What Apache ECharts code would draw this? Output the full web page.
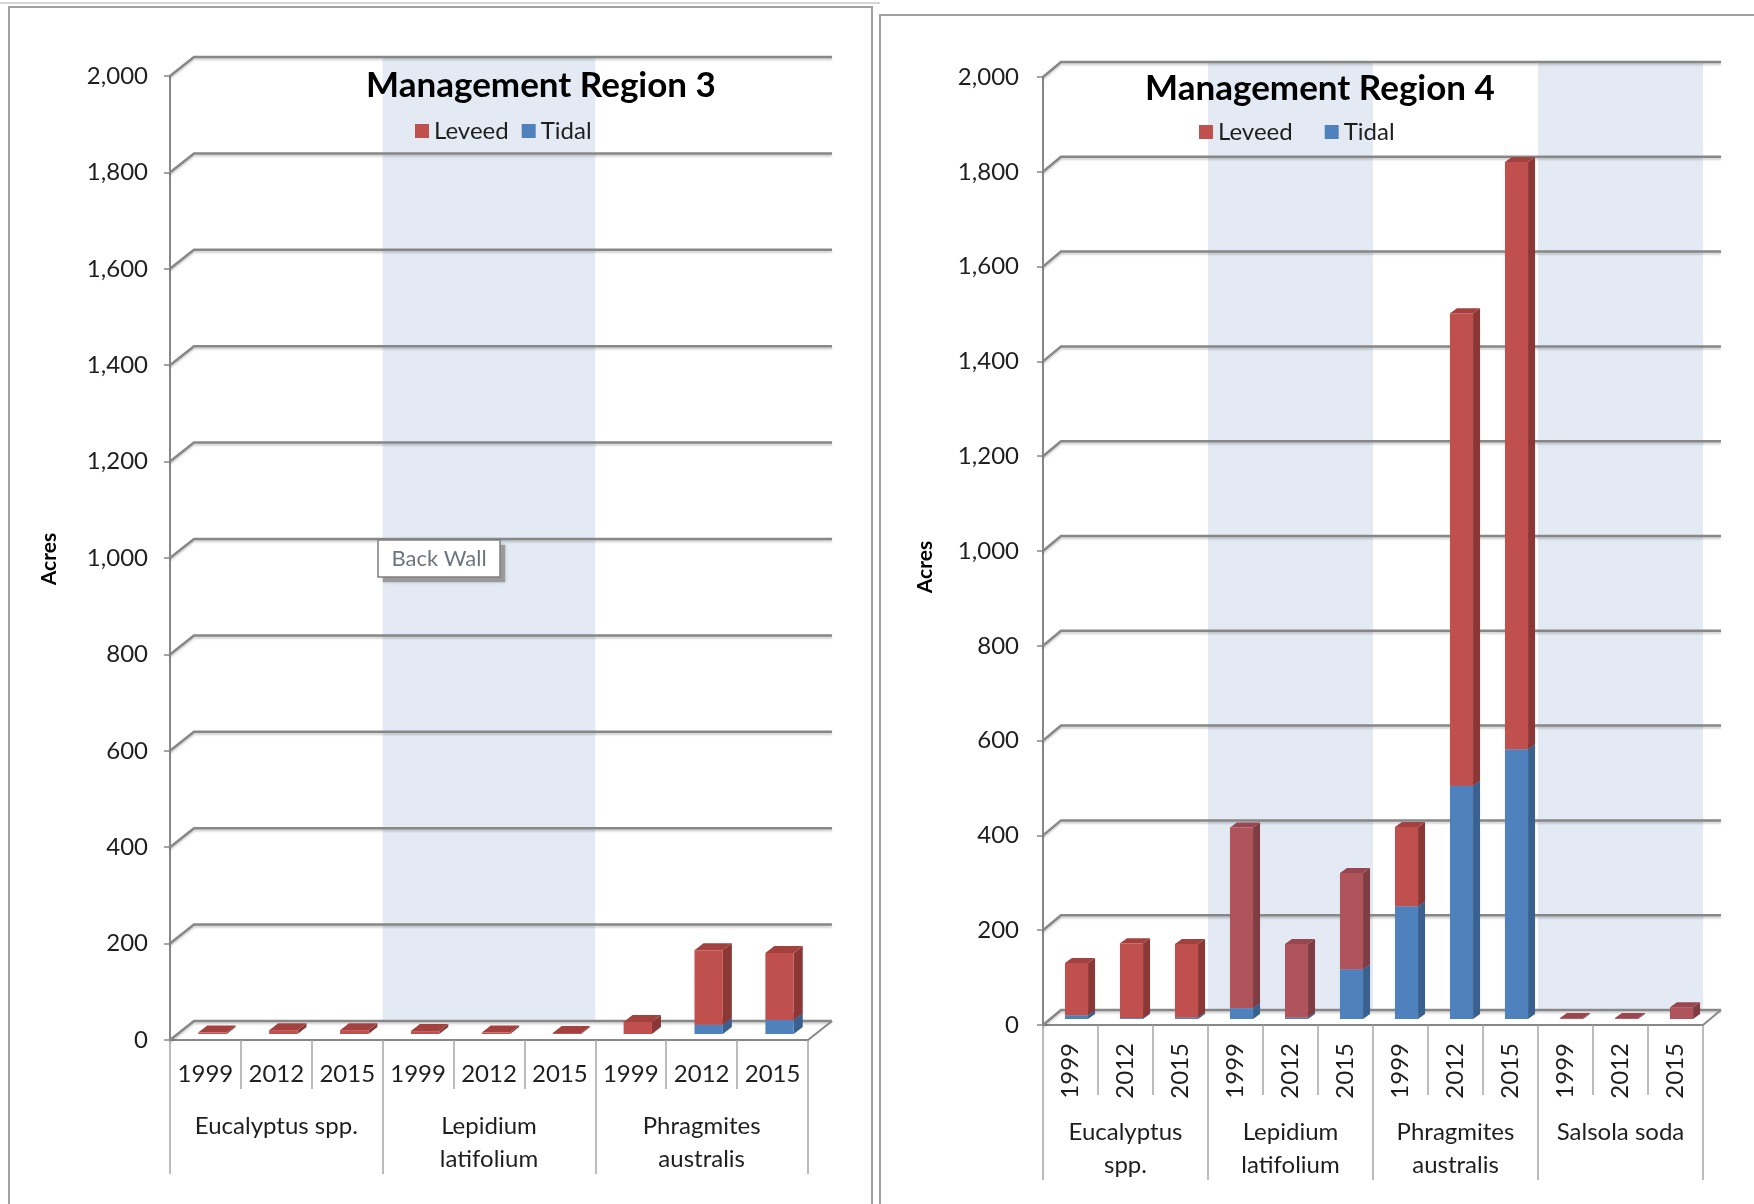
<!DOCTYPE html>
<html>
<head>
<meta charset="utf-8">
<script src="https://cdn.jsdelivr.net/npm/echarts@6/dist/echarts.min.js"></script>
<style>
  html, body { margin: 0; padding: 0; background: #fff; }
  #chart { width: 1754px; height: 1204px; }
</style>
</head>
<body>
<div id="chart"></div>
<script>
// ---- data ----
const years = ['1999', '2012', '2015'];
const yTicks = [0, 200, 400, 600, 800, 1000, 1200, 1400, 1600, 1800, 2000];

const groups3 = ['Eucalyptus spp.', 'Lepidium\nlatifolium', 'Phragmites\naustralis'];
const tidal3  = [0, 0, 0, 0, 0, 0, 0, 19, 29];
const leveed3 = [3, 8, 8, 6, 3, 2, 25, 155, 139];
const shaded3 = [1];

const groups4 = ['Eucalyptus\nspp.', 'Lepidium\nlatifolium', 'Phragmites\naustralis', 'Salsola soda'];
const tidal4  = [8, 2, 3, 23, 3, 105, 238, 492, 569, 0, 0, 0];
const leveed4 = [110, 158, 155, 381, 155, 203, 167, 997, 1239, 2, 2, 25];
const shaded4 = [1, 3];

const cats3 = groups3.flatMap(() => years);
const cats4 = groups4.flatMap(() => years);

// ---- look ----
const FONT = 'Lato, "Open Sans", sans-serif';
const TXT = '#1e1e1e';
const GRID_GRAY = '#878787';
const TICK_GRAY = '#a6a6a6';

const panel3 = { wall: [24, 19], barOff: [7, -6], barDepth: [9, 7], barRatio: 0.4, muted: [] };
const panel4 = { wall: [18, 15], barOff: [6, -6], barDepth: [7, 5], barRatio: 0.42, muted: [1, 3] };

const leveedFaces = { front: '#C0504D', side: '#8A3735', top: '#A3413F' };
const mutedFaces  = { front: '#B0545C', side: '#7E3C43', top: '#984750' };
const tidalFaces  = { front: '#4F81BD', side: '#3A608E', top: '#426FA6' };

function barShape(cfg, facesFor) {
  return function (params, api) {
    const i = api.value(0), lo = api.value(1), hi = api.value(2);
    if (!(hi > lo)) return null;
    const w = api.size([1, 0])[0] * cfg.barRatio;
    const b = api.coord([i, lo]), t = api.coord([i, hi]);
    const x = b[0] - w / 2 + cfg.barOff[0];
    const y0 = b[1] + cfg.barOff[1], y1 = t[1] + cfg.barOff[1];
    const dx = cfg.barDepth[0], dy = cfg.barDepth[1];
    const f = facesFor(i);
    return {
      type: 'group',
      children: [
        { type: 'polygon', shape: { points: [[x + w, y0], [x + w + dx, y0 - dy], [x + w + dx, y1 - dy], [x + w, y1]] }, style: { fill: f.side } },
        { type: 'polygon', shape: { points: [[x, y1], [x + dx, y1 - dy], [x + w + dx, y1 - dy], [x + w, y1]] }, style: { fill: f.top } },
        { type: 'rect', shape: { x: x, y: y1, width: w, height: y0 - y1 }, style: { fill: f.front } }
      ]
    };
  };
}

function wallShape(cfg) {
  return function (params, api) {
    const cs = params.coordSys;
    const v = api.value(1);
    const y = api.coord([0, v])[1];
    const dx = cfg.wall[0], dy = cfg.wall[1];
    const x0 = cs.x, x1 = cs.x + cs.width;
    const kids = [{
      type: 'polyline',
      shape: { points: [[x0, y], [x0 + dx, y - dy], [x1 + dx, y - dy]] },
      style: { stroke: GRID_GRAY, lineWidth: 2.5, fill: null, shadowColor: 'rgba(0,0,0,0.18)', shadowBlur: 2, shadowOffsetY: 2 }
    }];
    if (v === 0) {
      kids.push({ type: 'line', shape: { x1: x1, y1: y, x2: x1 + dx, y2: y - dy }, style: { stroke: GRID_GRAY, lineWidth: 2 } });
    }
    return { type: 'group', children: kids };
  };
}

function bandShape(cfg) {
  return function (params, api) {
    const g = api.value(0);
    const cw = api.size([1, 0])[0];
    const xs = api.coord([g * years.length, 0])[0] - cw / 2;
    const top = api.coord([0, yTicks[yTicks.length - 1]])[1] - cfg.wall[1];
    const bot = api.coord([0, 0])[1] - cfg.wall[1];
    return { type: 'rect', shape: { x: xs, y: top, width: cw * years.length, height: bot - top }, style: { fill: '#E4EAF4' } };
  };
}

function panelSeries(gi, cfg, tidal, leveed, shaded) {
  const axes = { xAxisIndex: gi * 2, yAxisIndex: gi };
  return [
    Object.assign({ type: 'custom', name: 'band', z: 1, silent: true, clip: false,
      data: shaded.map(g => [g, 0]), renderItem: bandShape(cfg) }, axes),
    Object.assign({ type: 'custom', name: 'wall', z: 2, silent: true, clip: false,
      data: yTicks.map(v => [0, v]), renderItem: wallShape(cfg) }, axes),
    Object.assign({ type: 'custom', name: 'Tidal', z: 3, clip: false, itemStyle: { color: '#4F81BD' },
      data: tidal.map((v, i) => [i, 0, v]),
      renderItem: barShape(cfg, () => tidalFaces) }, axes),
    Object.assign({ type: 'custom', name: 'Leveed', z: 3, clip: false, itemStyle: { color: '#C0504D' },
      data: leveed.map((v, i) => [i, tidal[i], tidal[i] + v]),
      renderItem: barShape(cfg, i => cfg.muted.indexOf(Math.floor(i / years.length)) >= 0 ? mutedFaces : leveedFaces) }, axes)
  ];
}

function yAxisFor(gi, margin) {
  return {
    gridIndex: gi, type: 'value', min: 0, max: 2000, interval: 200,
    axisLine: { show: true, lineStyle: { color: GRID_GRAY, width: 2 } },
    axisTick: { show: true, length: 6, lineStyle: { color: GRID_GRAY, width: 1.5 } },
    splitLine: { show: false },
    axisLabel: { margin: margin, fontSize: 24, fontFamily: FONT, color: TXT,
      formatter: v => v.toLocaleString('en-US') }
  };
}

function yearAxis(gi, data, tickLen, label) {
  return {
    gridIndex: gi, type: 'category', data: data, position: 'bottom', boundaryGap: true,
    axisLine: { show: true, lineStyle: { color: GRID_GRAY, width: 2 } },
    axisTick: { show: true, alignWithLabel: false, interval: 0, length: tickLen, lineStyle: { color: TICK_GRAY, width: 1.5 } },
    axisLabel: Object.assign({ interval: 0, fontSize: 24, fontFamily: FONT, color: TXT }, label)
  };
}

function groupAxis(gi, data, tickLen, margin) {
  return {
    gridIndex: gi, type: 'category', data: data, position: 'bottom', boundaryGap: true,
    axisLine: { show: false },
    axisTick: { show: true, alignWithLabel: false, interval: 0, length: tickLen, lineStyle: { color: TICK_GRAY, width: 1.5 } },
    axisLabel: { interval: 0, margin: margin, fontSize: 24, lineHeight: 33, fontFamily: FONT, color: TXT }
  };
}

function label(text, x, y, opts) {
  return Object.assign({
    type: 'text', x: x, y: y, z: 20, silent: true,
    style: Object.assign({ text: text, x: 0, y: 0, fill: TXT, fontFamily: FONT, fontSize: 24,
      align: 'center', verticalAlign: 'middle', textAlign: 'center', textVerticalAlign: 'middle' }, opts.style || {})
  }, opts.el || {});
}

const chart = echarts.init(document.getElementById('chart'));

chart.setOption({
  animation: false,
  backgroundColor: '#fff',
  grid: [
    { left: 170, top: 76, width: 638, height: 964 },
    { left: 1043, top: 77, width: 660, height: 948 }
  ],
  xAxis: [
    yearAxis(0, cats3, 49, { margin: 22 }),
    groupAxis(0, groups3, 134, 70),
    yearAxis(1, cats4, 70, { margin: 18, rotate: 90 }),
    groupAxis(1, groups4, 155, 91)
  ],
  yAxis: [yAxisFor(0, 22), yAxisFor(1, 24)],
  legend: [
    { data: ['Leveed', 'Tidal'], left: 410, top: 114, icon: 'rect', itemWidth: 14, itemHeight: 14, itemGap: 13,
      selectedMode: false, textStyle: { fontFamily: FONT, fontSize: 24, color: TXT } },
    { data: ['Leveed', 'Tidal'], left: 1194, top: 115, icon: 'rect', itemWidth: 14, itemHeight: 14, itemGap: 32,
      selectedMode: false, textStyle: { fontFamily: FONT, fontSize: 24, color: TXT } }
  ],
  series: panelSeries(0, panel3, tidal3, leveed3, shaded3)
    .concat(panelSeries(1, panel4, tidal4, leveed4, shaded4)),
  graphic: [
    // page frames
    { type: 'line', silent: true, z: 20, shape: { x1: 0, y1: 3, x2: 880, y2: 3 }, style: { stroke: '#c8c8c8', lineWidth: 1.5 } },
    { type: 'rect', silent: true, z: 20, shape: { x: 9, y: 7, width: 863, height: 1230 }, style: { fill: null, stroke: '#a0a0a0', lineWidth: 2 } },
    { type: 'polyline', silent: true, z: 20, shape: { points: [[880, 1210], [880, 15], [1760, 15]] }, style: { fill: null, stroke: '#a0a0a0', lineWidth: 2 } },
    // titles
    label('Management Region 3', 541, 86, { style: { fontSize: 35, fontWeight: 'bold', fill: '#000' } }),
    label('Management Region 4', 1320, 89, { style: { fontSize: 35, fontWeight: 'bold', fill: '#000' } }),
    // axis names
    label('Acres', 49, 559, { style: { fontSize: 21, fontWeight: 'bold', fill: '#000' }, el: { rotation: Math.PI / 2 } }),
    label('Acres', 925, 567, { style: { fontSize: 21, fontWeight: 'bold', fill: '#000' }, el: { rotation: Math.PI / 2 } }),
    // "Back Wall" hover box
    { type: 'rect', silent: true, z: 30, shape: { x: 383, y: 545, width: 122, height: 37 }, style: { fill: '#9a9a9a', shadowBlur: 3, shadowColor: 'rgba(0,0,0,0.3)' } },
    { type: 'rect', silent: true, z: 31, shape: { x: 378, y: 540, width: 122, height: 37 }, style: { fill: '#fff', stroke: '#7f7f7f', lineWidth: 1.5 } },
    Object.assign(label('Back Wall', 439, 559, { style: { fontSize: 22, fill: '#6f7580' } }), { z: 32 })
  ]
});
</script>
</body>
</html>
